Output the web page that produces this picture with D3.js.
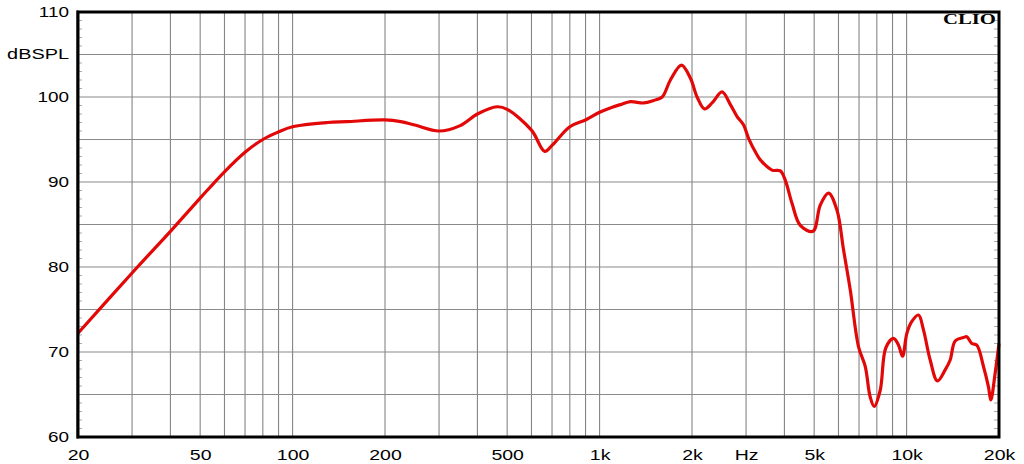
<!DOCTYPE html>
<html>
<head>
<meta charset="utf-8">
<script src="https://cdn.jsdelivr.net/npm/d3@7"></script>
<style>
  html, body { margin: 0; padding: 0; background: #fff; }
  svg { display: block; }
</style>
</head>
<body>
<svg id="chart" width="1024" height="464"></svg>
<script>
// ---- data ----
const freqHz = [20,30,40,50,60,70,80,90,100,130,150,200,225,250,300,350,400,464,500,600,663,700,800,900,1000,1100,1170,1260,1393,1500,1599,1701,1848,1977,2078,2196,2325,2506,2667,2805,2946,3059,3256,3339,3644,3879,4027,4234,4506,4955,5235,5570,5931,6234,6555,6975,7333,7612,7843,8206,8560,9066,9415,9701,10022,10403,10935,11350,11937,12603,13355,13867,14396,15316,15708,16310,16932,17800,18480,18810,19430,20000];
const splDb = [72.2,79.3,84.2,88.1,91.2,93.5,95.0,95.9,96.5,97.0,97.1,97.3,97.1,96.7,96.0,96.6,98.0,98.85,98.55,96.1,93.6,94.3,96.5,97.3,98.2,98.8,99.1,99.45,99.3,99.6,100.0,102.0,103.75,102.2,100.0,98.6,99.3,100.6,99.1,97.7,96.7,95.1,93.2,92.6,91.4,91.3,90.2,87.5,84.9,84.2,87.3,88.7,86.7,82.0,77.3,70.6,68.3,64.7,63.6,65.5,70.5,71.6,70.8,69.5,72.2,73.6,74.35,72.6,69.06,66.6,67.9,69.06,71.3,71.7,71.8,71.0,70.8,68.3,65.9,64.35,67.5,71.0];

const xGridHz = [30,40,50,60,70,80,90,100,200,300,400,500,600,700,800,900,1000,2000,3000,4000,5000,6000,7000,8000,9000,10000];
const xTickHz = [20,50,100,200,500,1000,2000,3000,5000,10000,20000];
const xTickLabels = ["20","50","100","200","500","1k","2k","Hz","5k","10k","20k"];
const yGridDb = [65,70,75,80,85,90,95,100,105];
const yTickDb = [60,70,80,90,100,105,110];
const yTickLabels = ["60","70","80","90","100","dBSPL","110"];
const yMinorDb = d3.range(61,110);

// ---- layout ----
const L = 78, R = 999, T = 12, B = 437;
const svg = d3.select("#chart");
const x = d3.scaleLog().domain([20,20000]).range([L,R]);
const y = d3.scaleLinear().domain([60,110]).range([B,T]);

// grid
svg.append("g").selectAll("line").data(xGridHz).join("line")
  .attr("x1", d => x(d)).attr("x2", d => x(d))
  .attr("y1", T).attr("y2", B)
  .attr("stroke", "#858585").attr("stroke-width", 1.1);
svg.append("g").selectAll("line").data(yGridDb).join("line")
  .attr("x1", L).attr("x2", R)
  .attr("y1", d => y(d)).attr("y2", d => y(d))
  .attr("stroke", "#8a8a8a").attr("stroke-width", 1.1);

// minor ticks inside left & right
svg.append("g").selectAll("line").data(yMinorDb.filter(d => d % 5 !== 0)).join("line")
  .attr("x1", L + 1).attr("x2", L + 4)
  .attr("y1", d => y(d)).attr("y2", d => y(d))
  .attr("stroke", "#aaa").attr("stroke-width", 1);
svg.append("g").selectAll("line").data(yMinorDb.filter(d => d % 5 !== 0)).join("line")
  .attr("x1", R - 5).attr("x2", R - 1)
  .attr("y1", d => y(d)).attr("y2", d => y(d))
  .attr("stroke", "#aaa").attr("stroke-width", 1);

// curve
const line = d3.line()
  .x((d, i) => x(freqHz[i]))
  .y(d => y(d))
  .curve(d3.curveCatmullRom.alpha(0.5));
svg.append("path")
  .attr("d", line(splDb))
  .attr("fill", "none")
  .attr("stroke", "#e30808")
  .attr("stroke-width", 3.2)
  .attr("stroke-linejoin", "round");

// frame
svg.append("rect")
  .attr("x", L).attr("y", T).attr("width", R - L).attr("height", B - T)
  .attr("fill", "none").attr("stroke", "#000").attr("stroke-width", 3);
svg.append("line").attr("x1", L - 0.5).attr("x2", L - 0.5).attr("y1", T - 1.5).attr("y2", B + 1.5)
  .attr("stroke", "#000").attr("stroke-width", 2);

// x axis
const xAxis = d3.axisBottom(x).tickValues(xTickHz)
  .tickFormat((d, i) => xTickLabels[i]).tickSize(0).tickPadding(12);
const gx = svg.append("g").attr("transform", `translate(0,${B})`).call(xAxis);
gx.select(".domain").remove();
gx.selectAll("text")
  .attr("font-family", "'Liberation Sans', Arial, sans-serif")
  .attr("font-size", 15).attr("fill", "#000")
  .attr("transform", "scale(1.3,1)");

// y axis
const yAxis = d3.axisLeft(y).tickValues(yTickDb)
  .tickFormat((d, i) => yTickLabels[i]).tickSize(0).tickPadding(0);
const gy = svg.append("g").attr("transform", `translate(${L},0)`).call(yAxis);
gy.select(".domain").remove();
gy.selectAll("text")
  .attr("font-family", "'Liberation Sans', Arial, sans-serif")
  .attr("font-size", 14).attr("fill", "#000")
  .attr("x", 0)
  .attr("transform", d => d === 105 ? "translate(-9,0) scale(1.42,1)" : "translate(-9,0) scale(1.35,1)");

// logo
svg.append("text")
  .attr("x", 996).attr("y", 24)
  .attr("text-anchor", "end")
  .attr("font-family", "'Liberation Serif', 'Times New Roman', serif")
  .attr("font-weight", "bold")
  .attr("font-size", 15)
  .attr("textLength", 53).attr("lengthAdjust", "spacingAndGlyphs")
  .text("CLIO");
</script>
</body>
</html>
